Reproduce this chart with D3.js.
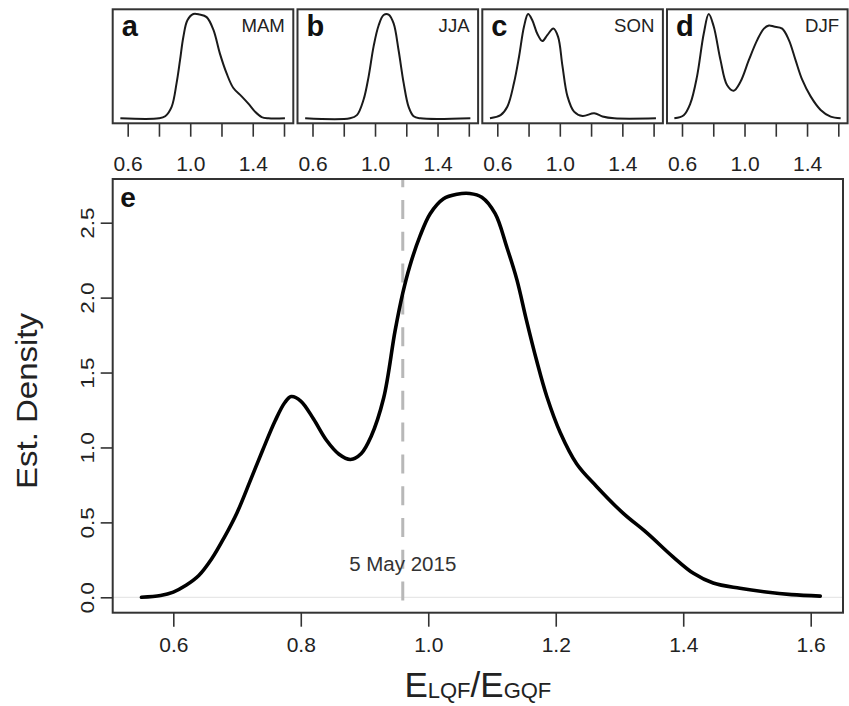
<!DOCTYPE html>
<html><head><meta charset="utf-8">
<script src="https://cdn.jsdelivr.net/npm/d3@7"></script>
<style>html,body{margin:0;padding:0;background:#fff}svg{display:block}</style>
</head><body>
<svg id="chart" width="849" height="706"></svg>
<script>
// ---------- DATA ----------
const mainX = [0.550,0.580,0.600,0.620,0.640,0.660,0.680,0.700,0.720,0.740,0.760,0.775,0.785,0.800,0.820,0.840,0.860,0.878,0.895,0.910,0.930,0.948,0.960,0.971,0.987,1.003,1.024,1.045,1.065,1.084,1.105,1.123,1.139,1.154,1.170,1.186,1.207,1.233,1.264,1.306,1.343,1.384,1.416,1.447,1.489,1.530,1.570,1.615];
const mainY = [0.000,0.012,0.035,0.080,0.145,0.255,0.400,0.565,0.770,0.980,1.180,1.300,1.340,1.310,1.190,1.050,0.955,0.920,0.960,1.070,1.330,1.780,2.030,2.210,2.410,2.560,2.660,2.690,2.695,2.670,2.560,2.340,2.120,1.850,1.580,1.340,1.100,0.890,0.740,0.560,0.430,0.270,0.160,0.095,0.060,0.035,0.018,0.008];

const seasons = ["MAM","JJA","SON","DJF"];
const panelLetters = ["a","b","c","d"];
const mamX = [0.553,0.800,0.840,0.881,0.913,0.935,0.956,0.982,1.020,1.060,1.105,1.148,1.190,1.233,1.276,1.329,1.372,1.414,1.457,1.500,1.606];
const mamY = [0.000,0.000,0.020,0.110,0.340,0.560,0.780,0.940,1.000,0.995,0.970,0.850,0.620,0.430,0.290,0.210,0.140,0.064,0.012,0.000,0.000];
const jjaX = [0.553,0.840,0.884,0.927,0.959,0.991,1.023,1.055,1.087,1.119,1.151,1.183,1.215,1.247,1.290,1.610];
const jjaY = [0.000,0.000,0.030,0.180,0.400,0.690,0.890,0.990,0.995,0.910,0.650,0.340,0.110,0.020,0.000,0.000];
const sonX = [0.553,0.621,0.664,0.707,0.739,0.771,0.797,0.824,0.856,0.888,0.921,0.959,0.989,1.017,1.049,1.091,1.145,1.220,1.273,1.348,1.615];
const sonY = [0.000,0.030,0.110,0.340,0.590,0.880,1.000,0.940,0.810,0.740,0.800,0.860,0.780,0.500,0.210,0.064,0.022,0.048,0.018,0.000,0.000];
const djfX = [0.551,0.611,0.653,0.696,0.739,0.771,0.803,0.846,0.888,0.931,0.974,1.028,1.081,1.124,1.156,1.188,1.241,1.284,1.326,1.369,1.423,1.487,1.551,1.615];
const djfY = [0.000,0.030,0.140,0.400,0.810,1.000,0.880,0.560,0.320,0.265,0.350,0.560,0.750,0.860,0.890,0.880,0.860,0.750,0.560,0.370,0.210,0.080,0.016,0.000];
const seasonX = [mamX, jjaX, sonX, djfX];
const seasonY = [mamY, jjaY, sonY, djfY];

const xTicks = [0.6,0.8,1.0,1.2,1.4,1.6];
const topTickLabels = [0.6,1.0,1.4];
const yTicks = [0.0,0.5,1.0,1.5,2.0,2.5];
const markerX = 0.96;
const markerLabel = "5 May 2015";

// ---------- DRAW ----------
const svg = d3.select("#chart");
const FONT = "Arial, 'Liberation Sans', Helvetica, sans-serif";
const smooth = d3.curveCatmullRom.alpha(0.5);

// Top panels
const pW = 180.6, pTop = 9.3, pBot = 123.3;
const pLefts = [112.7, 297.5, 482.3, 667.0];
seasons.forEach((s, i) => {
  const L = pLefts[i];
  const g = svg.append("g");
  const x = d3.scaleLinear().domain([0.6, 1.6]).range([L + 15, L + 171.3]);
  const y = d3.scaleLinear().domain([0, 1]).range([118.3, 14]);
  const pts = seasonX[i].map((v, k) => [v, seasonY[i][k]]);
  g.append("path").datum(pts)
    .attr("d", d3.line().x(d => x(d[0])).y(d => y(d[1])).curve(smooth))
    .attr("fill", "none").attr("stroke", "#1a1a1a").attr("stroke-width", 2);
  g.append("rect").attr("x", L).attr("y", pTop).attr("width", pW).attr("height", pBot - pTop)
    .attr("fill", "none").attr("stroke", "#333").attr("stroke-width", 2);
  const ax = g.append("g").attr("transform", `translate(0,${pBot})`)
    .call(d3.axisBottom(x).tickValues(xTicks).tickSize(13.4).tickFormat(d => topTickLabels.includes(d) ? d3.format(".1f")(d) : ""));
  ax.select(".domain").remove();
  ax.selectAll(".tick line").attr("stroke", "#333").attr("stroke-width", 1.6);
  ax.selectAll(".tick text").attr("font-family", FONT).attr("font-size", 21).attr("fill", "#222")
    .attr("dy", null).attr("y", 48);
  g.append("text").attr("x", L + 9).attr("y", 36).text(panelLetters[i])
    .attr("font-family", FONT).attr("font-weight", "bold").attr("font-size", 29).attr("fill", "#111");
  g.append("text").attr("x", L + pW - 8.5).attr("y", 31.7).attr("text-anchor", "end").text(s)
    .attr("font-family", FONT).attr("font-size", 18.6).attr("fill", "#222");
});

// Main panel
const mL = 112.7, mR = 843, mT = 179, mB = 612.7;
const x = d3.scaleLinear().domain([0.6, 1.6]).range([173.3, 810.7]);
const y = d3.scaleLinear().domain([0, 2.5]).range([597.3, 222.7]);
const main = svg.append("g");

main.append("line").attr("x1", mL).attr("x2", mR).attr("y1", y(0)).attr("y2", y(0))
  .attr("stroke", "#e2e2e2").attr("stroke-width", 1);

main.append("line").attr("x1", x(markerX)).attr("x2", x(markerX)).attr("y1", mT).attr("y2", mB)
  .attr("stroke", "#b8b8b8").attr("stroke-width", 3)
  .attr("stroke-dasharray", "19,12.8").attr("stroke-dashoffset", 10.8);

main.append("text").attr("x", x(markerX)).attr("y", 570.7).attr("text-anchor", "middle")
  .text(markerLabel).attr("font-family", FONT).attr("font-size", 20.5).attr("fill", "#333");

const mpts = mainX.map((v, k) => [v, mainY[k]]);
main.append("path").datum(mpts)
  .attr("d", d3.line().x(d => x(d[0])).y(d => y(d[1])).curve(smooth))
  .attr("fill", "none").attr("stroke", "#000").attr("stroke-width", 3.6)
  .attr("stroke-linecap", "round").attr("stroke-linejoin", "round");

main.append("rect").attr("x", mL).attr("y", mT).attr("width", mR - mL).attr("height", mB - mT)
  .attr("fill", "none").attr("stroke", "#333").attr("stroke-width", 2);

const xa = main.append("g").attr("transform", `translate(0,${mB})`)
  .call(d3.axisBottom(x).tickValues(xTicks).tickSize(14).tickFormat(d3.format(".1f")));
xa.select(".domain").remove();
xa.selectAll(".tick line").attr("stroke", "#333").attr("stroke-width", 1.6);
xa.selectAll(".tick text").attr("font-family", FONT).attr("font-size", 21).attr("fill", "#222")
  .attr("dy", null).attr("y", 39);

const ya = main.append("g").attr("transform", `translate(${mL},0)`)
  .call(d3.axisLeft(y).tickValues(yTicks).tickSize(12).tickFormat(d3.format(".1f")));
ya.select(".domain").remove();
ya.selectAll(".tick line").attr("stroke", "#333").attr("stroke-width", 1.6);
ya.selectAll(".tick text").remove();
ya.selectAll(".tick").append("text")
  .attr("transform", "translate(-18.5,0) scale(0.8,1) rotate(-90)")
  .attr("text-anchor", "middle").attr("font-family", FONT).attr("font-size", 22.5).attr("fill", "#222")
  .text(d => d3.format(".1f")(d));

main.append("text").attr("x", 128).attr("y", 207).text("e")
  .attr("font-family", FONT).attr("font-weight", "bold").attr("font-size", 28).attr("fill", "#111")
  .attr("text-anchor", "middle");

// Axis titles
svg.append("text").attr("transform", "translate(36.5,401) scale(0.92,1) rotate(-90)")
  .attr("text-anchor", "middle").attr("font-family", FONT).attr("font-size", 33).attr("fill", "#222")
  .text("Est. Density");

const xt = svg.append("text").attr("x", (mL + mR) / 2).attr("y", 696.7).attr("text-anchor", "middle")
  .attr("font-family", FONT).attr("fill", "#222");
xt.append("tspan").attr("font-size", 35).text("E");
xt.append("tspan").attr("font-size", 22).attr("dy", 1).text("LQF");
xt.append("tspan").attr("font-size", 35).attr("dy", -1).text("/");
xt.append("tspan").attr("font-size", 35).text("E");
xt.append("tspan").attr("font-size", 22).attr("dy", 1).text("GQF");
</script>
</body></html>
